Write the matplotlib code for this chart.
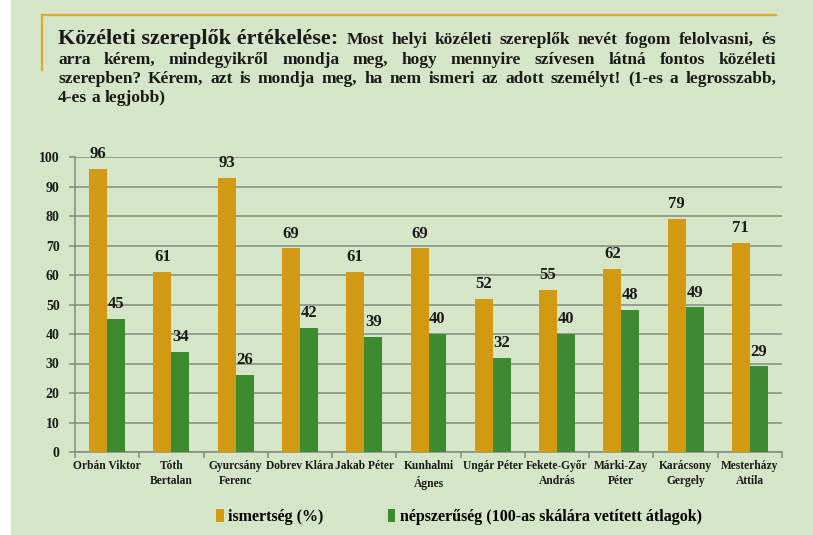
import numpy as np
from matplotlib import pyplot as plt
from matplotlib.patches import Rectangle
from matplotlib.lines import Line2D
from matplotlib.font_manager import FontProperties

# data
names = ["Orbán Viktor", "Tóth\nBertalan", "Gyurcsány\nFerenc", "Dobrev Klára",
         "Jakab Péter", "Kunhalmi\nÁgnes", "Ungár Péter", "Fekete-Győr\nAndrás",
         "Márki-Zay\nPéter", "Karácsony\nGergely", "Mesterházy\nAttila"]
ismertseg = [96, 61, 93, 69, 61, 69, 52, 55, 62, 79, 71]
nepszeruseg = [45, 34, 26, 42, 39, 40, 32, 40, 48, 49, 29]
series_labels = ["ismertség (%)", "népszerűség (100-as skálára vetített átlagok)"]

title_head = "Közéleti szereplők értékelése:"
title_lines = [
    "Most helyi közéleti szereplők nevét fogom felolvasni, és",
    "arra kérem, mindegyikről mondja meg, hogy mennyire szívesen látná fontos közéleti",
    "szerepben? Kérem, azt is mondja meg, ha nem ismeri az adott személyt!  (1-es a legrosszabb,",
    "4-es a legjobb)",
]

BG = "#d4e6c7"
GOLD = "#d29a12"
GREEN = "#3c8b30"
GRID = "#858b80"
TEXT = "#1a1a1a"
SERIF = "Liberation Serif"

W, H = 813, 535
fig = plt.figure(figsize=(W / 100, H / 100), dpi=100)
fig.patch.set_facecolor(BG)
# white strip on the left edge
fig.patches.append(Rectangle((0, 0), 11 / W, 1, transform=fig.transFigure,
                             facecolor="white", edgecolor="none", zorder=0))

# gold frame lines at top left
fig.lines.append(Line2D([42 / W, 776 / W], [1 - 15 / H, 1 - 15 / H],
                        transform=fig.transFigure, color="#d9ac2e", lw=1.6))
fig.lines.append(Line2D([42 / W, 42 / W], [1 - 15 / H, 1 - 70 / H],
                        transform=fig.transFigure, color="#d9ac2e", lw=1.6))

ax = fig.add_axes([75 / W, 83 / H, (782 - 75) / W, (452 - 157) / H])
ax.set_facecolor("none")

x = np.arange(len(names))
width = 0.28
b1 = ax.bar(x - width / 2, ismertseg, width, color=GOLD, zorder=3, label=series_labels[0])
b2 = ax.bar(x + width / 2, nepszeruseg, width, color=GREEN, zorder=3, label=series_labels[1])

for bars in (b1, b2):
    for rect in bars:
        h = rect.get_height()
        ax.annotate(f"{h:.0f}", (rect.get_x() + rect.get_width() / 2, h),
                    xytext=(0, 5), textcoords="offset points", ha="center", va="bottom",
                    fontsize=12, fontweight="bold", family=SERIF, color=TEXT,
                    annotation_clip=False)

ax.set_xlim(-0.5, len(names) - 0.5)
ax.set_ylim(0, 100)
ax.set_yticks(range(0, 101, 10))
ax.yaxis.grid(True, color=GRID, lw=1.1, zorder=1)
ax.tick_params(axis="y", length=4, color=GRID, width=1.1, pad=7)
for lab in ax.get_yticklabels():
    lab.set_fontfamily(SERIF)
    lab.set_fontweight("bold")
    lab.set_fontsize(10)
    lab.set_color(TEXT)

ax.set_xticks(np.arange(len(names) + 1) - 0.5, minor=False)
ax.set_xticklabels([])
ax.tick_params(axis="x", length=4, color=GRID, width=1.1)
ax.set_xticks(x, minor=True)
ax.set_xticklabels(names, minor=True, fontsize=8.3, fontweight="bold",
                   family=SERIF, color=TEXT, linespacing=1.3)
ax.tick_params(axis="x", which="minor", length=0, pad=6)

for side in ("top", "right"):
    ax.spines[side].set_visible(False)
ax.spines["left"].set_color(GRID)
ax.spines["bottom"].set_color(GRID)
ax.spines["left"].set_linewidth(1.1)
ax.spines["bottom"].set_linewidth(1.1)

# title text, justified like the source slide
renderer = fig.canvas.get_renderer()
left_px, right_px = 58, 776
line_y = [44, 63.5, 83, 102.5]
body_size = 12.5


def place_words(words, y_px, x0, x1, size, justify):
    objs = [fig.text(0, 1 - y_px / H, w, fontsize=size, fontweight="bold",
                     family=SERIF, color=TEXT, va="baseline") for w in words]
    widths = [o.get_window_extent(renderer).width for o in objs]
    sp = 0.25 * size * 100 / 72
    if justify and len(words) > 1:
        sp = (x1 - x0 - sum(widths)) / (len(words) - 1)
    pos = x0
    for o, w in zip(objs, widths):
        o.set_x(pos / W)
        pos += w + sp
    return pos


head = fig.text(left_px / W, 1 - line_y[0] / H, title_head, fontsize=16, fontweight="bold",
                family=SERIF, color=TEXT, va="baseline")
head_w = head.get_window_extent(renderer).width
place_words(title_lines[0].split(), line_y[0], left_px + head_w + 8, right_px, body_size, True)
place_words(title_lines[1].split(), line_y[1], left_px, right_px, body_size, True)
place_words(title_lines[2].split(), line_y[2], left_px, right_px, body_size, True)
place_words(title_lines[3].split(), line_y[3], left_px, right_px, body_size, False)

fig.legend(handles=[b1, b2], labels=series_labels, loc="center", ncol=2,
           bbox_to_anchor=(459 / W, 1 - 517 / H), frameon=False,
           prop=FontProperties(family=SERIF, weight="bold", size=11.5),
           handlelength=0.45, handleheight=0.8, handletextpad=0.3, columnspacing=4.0)

fig.savefig("out.png", dpi=100, facecolor=fig.get_facecolor())
plt.close(fig)
